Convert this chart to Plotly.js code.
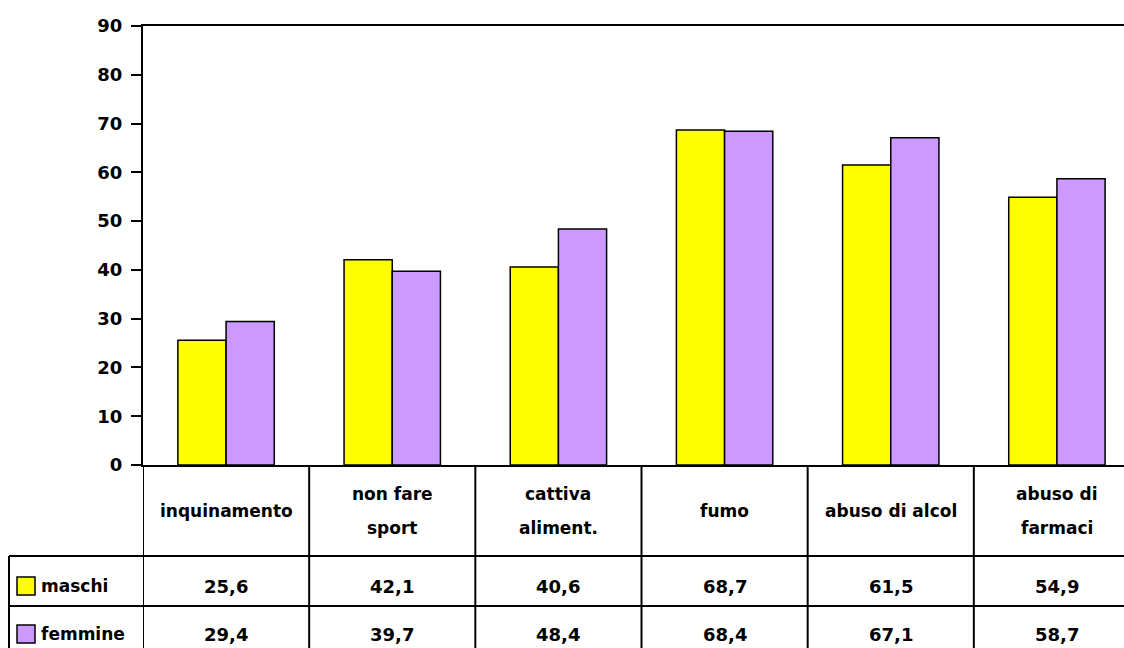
<!DOCTYPE html>
<html>
<head>
<meta charset="utf-8">
<script src="https://cdn.plot.ly/plotly-3.0.1.min.js"></script>
<style>
html, body { margin: 0; padding: 0; overflow: hidden; background: #fff; }
#chart { width: 1160px; height: 648px; }
</style>
</head>
<body>
<div id="chart"></div>
<script>
// ---- data ----
const categories = ["inquinamento", "non fare<br>sport", "cattiva<br>aliment.", "fumo", "abuso di alcol", "abuso di<br>farmaci"];
const seriesNames = ["maschi", "femmine"];
const maschi = [25.6, 42.1, 40.6, 68.7, 61.5, 54.9];
const femmine = [29.4, 39.7, 48.4, 68.4, 67.1, 58.7];
const yTicks = [0, 10, 20, 30, 40, 50, 60, 70, 80, 90];

// ---- style ----
const FONT = "Comic Sans MS, DejaVu Sans, sans-serif";
const colors = ["#FFFF00", "#CC99FF"];
const fontBase = { family: FONT, size: 17, color: "#000", weight: 700 };
const fontVal = { family: FONT, size: 18, color: "#000", weight: 700 };
const fontTick = { family: FONT, size: 18, color: "#000", weight: 700 };

const idx = categories.map((_, i) => i);
const seriesData = [maschi, femmine];

const traces = seriesData.map((vals, s) => ({
  type: "bar",
  name: seriesNames[s],
  x: idx,
  y: vals,
  marker: { color: colors[s], line: { color: "#000", width: 1.5 } },
  hoverinfo: "x+y"
}));

// table geometry (paper coords; plot from y=26 to 465 px, x from 143 to 1140 px)
const plotTop = 26, plotBottom = 465, plotLeft = 143, plotRight = 1140;
const ph = plotBottom - plotTop, pw = plotRight - plotLeft;
const py = (p) => (plotBottom - p) / ph;
const px = (p) => (p - plotLeft) / pw;

const headerBottom = 556, row1Bottom = 606, row2Bottom = 656;
const tableLeft = 9;

const lineStyle = { color: "#000", width: 2 };
const shapes = [];
for (let i = 0; i <= categories.length; i++) {
  shapes.push({ type: "line", xref: "x", yref: "paper", x0: i - 0.5, x1: i - 0.5,
    y0: 0, y1: py(row2Bottom), line: lineStyle, layer: "above" });
}
[headerBottom, row1Bottom].forEach(p => {
  shapes.push({ type: "line", xref: "paper", yref: "paper", x0: px(tableLeft), x1: 1.0,
    y0: py(p), y1: py(p), line: lineStyle });
});
shapes.push({ type: "line", xref: "paper", yref: "paper", x0: px(tableLeft), x1: px(tableLeft),
  y0: py(headerBottom), y1: py(row2Bottom), line: lineStyle });
const rowCenters = [586, 634];
rowCenters.forEach((c, s) => {
  shapes.push({ type: "rect", xref: "paper", yref: "paper",
    x0: px(17), x1: px(35), y0: py(c - 9), y1: py(c + 9),
    fillcolor: colors[s], line: { color: "#000", width: 1.5 } });
});

const annotations = [];
const headerCenter = 511, lineGap = 34;
categories.forEach((c, i) => {
  const lines = c.split("<br>");
  lines.forEach((ln, k) => {
    const yc = headerCenter + (k - (lines.length - 1) / 2) * lineGap;
    annotations.push({ xref: "x", yref: "paper", x: i, y: py(yc),
      text: ln, showarrow: false, font: fontBase, xanchor: "center", yanchor: "middle" });
  });
  seriesData.forEach((vals, s) => {
    annotations.push({ xref: "x", yref: "paper", x: i, y: py(rowCenters[s]),
      text: vals[i].toFixed(1).replace(".", ","), showarrow: false, font: fontVal,
      xanchor: "center", yanchor: "middle" });
  });
});
seriesNames.forEach((n, s) => {
  annotations.push({ xref: "paper", yref: "paper", x: px(39), y: py(rowCenters[s]),
    text: n, showarrow: false, font: fontBase, xanchor: "left", yanchor: "middle" });
});

const layout = {
  width: 1160, height: 648,
  margin: { l: plotLeft, r: 1160 - plotRight, t: plotTop, b: 648 - plotBottom },
  paper_bgcolor: "#fff", plot_bgcolor: "#fff",
  showlegend: false,
  barmode: "group", bargap: 0.42, bargroupgap: 0,
  font: fontBase,
  xaxis: {
    range: [-0.5, categories.length - 0.5],
    showticklabels: false, ticks: "", showgrid: false, zeroline: false,
    showline: true, linecolor: "#000", linewidth: 2, mirror: true
  },
  yaxis: {
    range: [0, 90], tickvals: yTicks, ticktext: yTicks.map(String),
    ticks: "outside", ticklen: 10, tickwidth: 2, tickcolor: "#000",
    showgrid: false, zeroline: false,
    showline: true, linecolor: "#000", linewidth: 2,
    tickfont: fontTick, ticklabelstandoff: 5
  },
  shapes: shapes,
  annotations: annotations
};

Plotly.newPlot("chart", traces, layout, { displayModeBar: false, staticPlot: true });
</script>
</body>
</html>
